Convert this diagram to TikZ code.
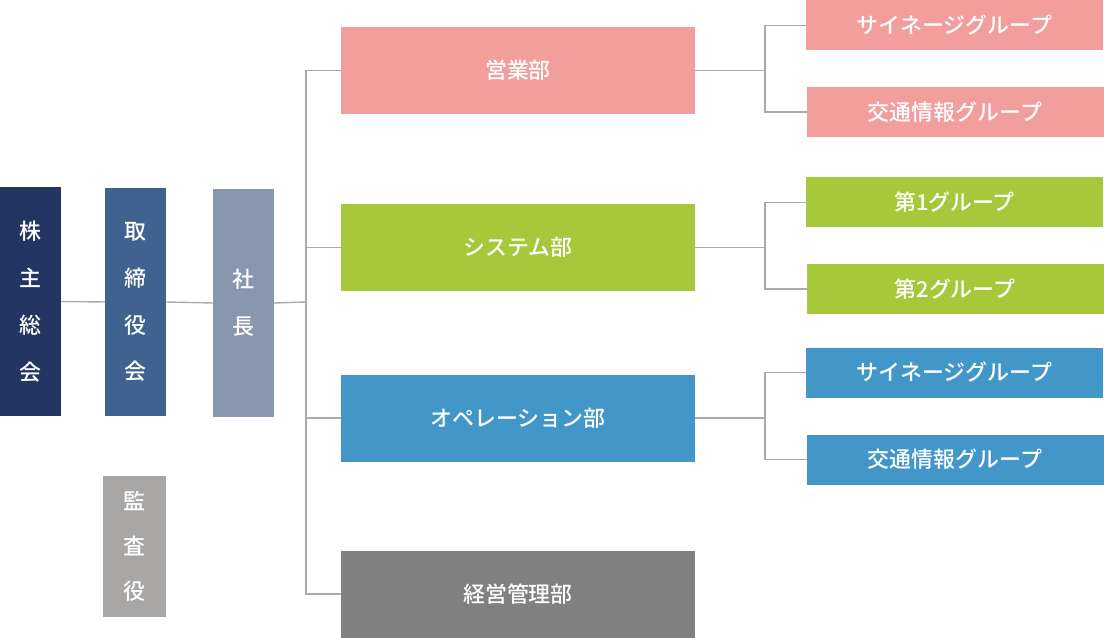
\documentclass[tikz,border=0pt]{standalone}
\usepackage{fontspec}
\newfontfamily\jp{Noto Sans CJK JP Medium}
\definecolor{cnavy}{HTML}{233560}
\definecolor{cboard}{HTML}{3F6291}
\definecolor{cpres}{HTML}{8896AE}
\definecolor{caudit}{HTML}{A9A7A6}
\definecolor{cpink}{HTML}{F29E9C}
\definecolor{cgreen}{HTML}{A6C93C}
\definecolor{cblue}{HTML}{4396C8}
\definecolor{cgray}{HTML}{808080}
\definecolor{cline}{HTML}{AAAAAA}
\tikzset{
  box/.style={inner sep=0pt, outer sep=0pt, text=white, font=\jp\fontsize{22}{25}\selectfont, align=center},
  vbox/.style={box, minimum width=61bp, font=\jp\fontsize{22}{47}\selectfont},
  dept/.style={box, minimum width=354bp, minimum height=87bp},
  grp/.style={box, minimum width=297bp, minimum height=50bp},
  conn/.style={draw=cline, line width=1.4bp}
}
\begin{document}
\begin{tikzpicture}[x=1bp,y=-1bp]
\useasboundingbox (0,0) rectangle (1104,638);
% left column
\node[vbox, fill=cnavy, minimum height=229bp] (kabu) at (30.5,301.5) {株\\主\\総\\会};
\node[vbox, fill=cboard, minimum height=228bp] (tori) at (135.5,302) {取\\締\\役\\会};
\node[vbox, fill=cpres, minimum height=228bp] (shacho) at (243.5,303) {社\\長};
\node[vbox, fill=caudit, minimum width=63bp, minimum height=141bp, font=\jp\fontsize{22}{45}\selectfont] (kansa) at (134.5,546.5) {監\\査\\役};
% departments
\node[dept, fill=cpink] (eigyo) at (518,70.5) {営業部};
\node[dept, fill=cgreen] (system) at (518,247.5) {システム部};
\node[dept, fill=cblue] (ope) at (518,418) {オペレーション部};
\node[dept, fill=cgray] (keiei) at (518,594) {経営管理部};
% groups
\node[grp, fill=cpink] (g1) at (954.5,25.5) {サイネージグループ};
\node[grp, fill=cpink] (g2) at (955,112) {交通情報グループ};
\node[grp, fill=cgreen] (g3) at (954.5,202.5) {第1グループ};
\node[grp, fill=cgreen] (g4) at (955,289) {第2グループ};
\node[grp, fill=cblue] (g5) at (954.5,372.5) {サイネージグループ};
\node[grp, fill=cblue] (g6) at (955,459.5) {交通情報グループ};
% connectors
\coordinate (trunk) at (306,302);
\coordinate (j1) at (765,70.5);
\coordinate (j2) at (765,247.5);
\coordinate (j3) at (765,418);
\draw[conn] (kabu.east) -- (tori.west);
\draw[conn] (tori.east) -- (shacho.west);
\draw[conn] (shacho.east) -- (trunk);
\draw[conn] (trunk) |- (eigyo.west);
\draw[conn] (trunk) |- (system.west);
\draw[conn] (trunk) |- (ope.west);
\draw[conn] (trunk) |- (keiei.west);
\draw[conn] (eigyo.east) -- (j1);
\draw[conn] (j1) |- (g1.west);
\draw[conn] (j1) |- (g2.west);
\draw[conn] (system.east) -- (j2);
\draw[conn] (j2) |- (g3.west);
\draw[conn] (j2) |- (g4.west);
\draw[conn] (ope.east) -- (j3);
\draw[conn] (j3) |- (g5.west);
\draw[conn] (j3) |- (g6.west);
\end{tikzpicture}
\end{document}
